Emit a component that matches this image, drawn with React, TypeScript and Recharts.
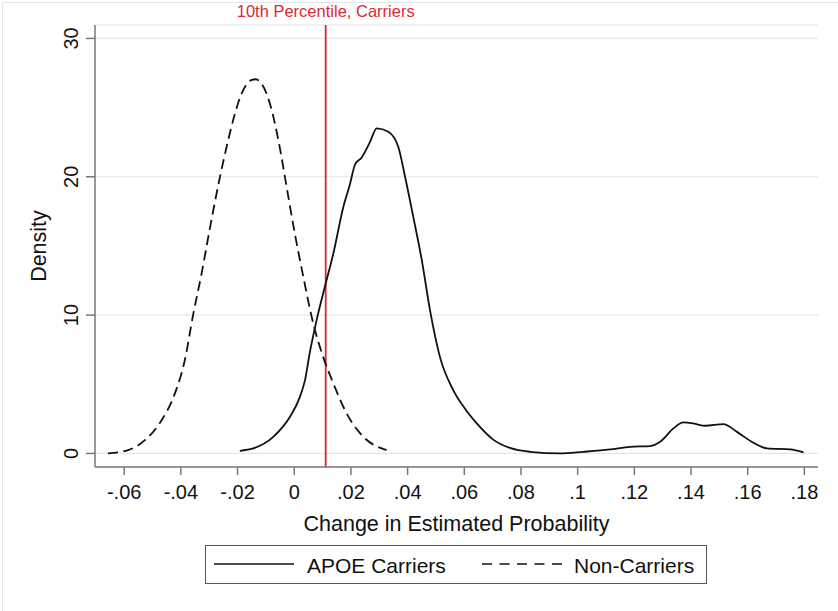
import React from "react";
import {
  LineChart,
  Line,
  XAxis,
  YAxis,
  CartesianGrid,
  ReferenceLine,
  Legend,
} from "recharts";

const FONT = "'Liberation Sans', Arial, Helvetica, sans-serif";

// APOE carriers (solid)
const carrierX = [
  -0.0192, -0.0145, -0.0074, -0.0015, 0.002, 0.0038, 0.0055, 0.0079, 0.0108,
  0.0138, 0.0173, 0.0197, 0.0214, 0.0238, 0.0267, 0.0291, 0.0332, 0.0367,
  0.0391, 0.042, 0.045, 0.0479, 0.0514, 0.0561, 0.06, 0.0644,
  0.0702, 0.0761, 0.0832, 0.0938, 0.102, 0.1114, 0.1185, 0.1256, 0.1291,
  0.1338, 0.1373, 0.1408, 0.145, 0.1514, 0.1562, 0.162, 0.1668, 0.175, 0.1797,
];
const carrierY = [
  0.19, 0.36, 1.2, 2.65, 4.09, 5.3, 7.3, 9.64, 12.05, 14.46, 17.8, 19.5, 20.85,
  21.4, 22.5, 23.5, 23.25, 22.17, 20.0, 17.1, 13.98, 10.36, 6.98, 4.58, 3.3,
  2.17, 1.0, 0.4, 0.12, 0.0, 0.12, 0.29, 0.48, 0.53, 0.84, 1.81,
  2.24, 2.17, 2.0, 2.12, 1.56, 0.77, 0.36, 0.29, 0.07,
];

// Non-carriers (dashed)
const nonCarrierX = [
  -0.0657, -0.0586, -0.0527, -0.0468, -0.0421, -0.0386, -0.0357, -0.0327,
  -0.0301, -0.0262, -0.0233, -0.0209, -0.0186, -0.015, -0.0135, -0.0121,
  -0.0086, -0.0056, -0.0027, 0.0002, 0.0032, 0.0067, 0.0102, 0.0138, 0.0185,
  0.0244, 0.0326,
];
const nonCarrierY = [
  0.0, 0.24, 0.96, 2.4, 4.34, 6.75, 10.0, 13.0, 15.9, 20.0, 22.65, 24.58, 26.0,
  27.0, 27.05, 26.87, 25.3, 22.65, 19.28, 15.9, 12.77, 9.4, 6.98, 5.06, 2.89,
  1.2, 0.24,
];

const xTicks = [-0.06, -0.04, -0.02, 0, 0.02, 0.04, 0.06, 0.08, 0.1, 0.12, 0.14, 0.16, 0.18];
const yTicks = [0, 10, 20, 30];
const percentile10 = 0.0111;

const seriesNames = ["APOE Carriers", "Non-Carriers"];

const carrierData = carrierX.map((x, i) => ({ x, y: carrierY[i] }));
const nonCarrierData = nonCarrierX.map((x, i) => ({ x, y: nonCarrierY[i] }));

const fmtX = (v: number) => {
  if (v === 0) return "0";
  return Number(v.toFixed(2)).toString().replace("0.", ".");
};

const XTick = (props: any) => {
  const { x, y, payload } = props;
  return (
    <text x={x} y={y + 20} textAnchor="middle" fontSize={20} fontFamily={FONT} fill="#111">
      {fmtX(payload.value)}
    </text>
  );
};

const YTick = (props: any) => {
  const { x, y, payload } = props;
  return (
    <text
      x={x}
      y={y}
      transform={`rotate(-90, ${x}, ${y})`}
      textAnchor="middle"
      fontSize={20}
      fontFamily={FONT}
      fill="#111"
    >
      {payload.value}
    </text>
  );
};

const renderLegend = () => (
  <div
    style={{
      width: 502,
      height: 39,
      border: "1.5px solid #555",
      boxSizing: "border-box",
      background: "#fff",
      position: "relative",
    }}
  >
    <svg width={500} height={36} style={{ position: "absolute", left: 0, top: 0 }}>
      <line x1={8} x2={88} y1={18} y2={18} stroke="#111" strokeWidth={1.6} />
      <text x={101} y={26.5} fontSize={21} fontFamily={FONT} fill="#111">
        {seriesNames[0]}
      </text>
      <line x1={276} x2={356} y1={18} y2={18} stroke="#111" strokeWidth={1.6} strokeDasharray="10 7.5" />
      <text x={368} y={26.5} fontSize={21} fontFamily={FONT} fill="#111">
        {seriesNames[1]}
      </text>
    </svg>
  </div>
);

export default function App() {
  return (
    <div style={{ position: "absolute", left: 0, top: 0, width: 838, height: 611, background: "#fff" }}>
      <div
        style={{
          position: "absolute",
          left: 2,
          top: 2,
          width: 836,
          height: 609,
          borderTop: "1px solid #e4e4e4",
          borderLeft: "1px solid #e4e4e4",
          boxSizing: "border-box",
        }}
      />
      <LineChart
        width={838}
        height={611}
        margin={{ top: 25, right: 20, bottom: 114, left: 35 }}
        style={{ position: "absolute", left: 0, top: 0 }}
      >
        <CartesianGrid vertical={false} stroke="#e6e6e6" strokeWidth={1.2} />
        <XAxis
          type="number"
          dataKey="x"
          domain={[-0.0703, 0.1848]}
          allowDataOverflow
          ticks={xTicks}
          interval={0}
          height={30}
          tickSize={8}
          tickMargin={4}
          stroke="#777"
          strokeWidth={1.5}
          tick={<XTick />}
          label={({ viewBox }: any) => (
            <text
              x={viewBox.x + viewBox.width / 2}
              y={viewBox.y + 64}
              textAnchor="middle"
              fontSize={21.5}
              fontFamily={FONT}
              fill="#111"
            >
              Change in Estimated Probability
            </text>
          )}
        />
        <YAxis
          type="number"
          dataKey="y"
          domain={[-0.98, 30.97]}
          allowDataOverflow
          ticks={yTicks}
          interval={0}
          width={60}
          tickSize={9}
          tickMargin={8}
          stroke="#777"
          strokeWidth={1.5}
          tick={<YTick />}
          label={({ viewBox }: any) => {
            const cx = 46;
            const cy = viewBox.y + viewBox.height / 2;
            return (
              <text
                x={cx}
                y={cy}
                transform={`rotate(-90, ${cx}, ${cy})`}
                textAnchor="middle"
                fontSize={21.5}
                fontFamily={FONT}
                fill="#111"
              >
                Density
              </text>
            );
          }}
        />
        <ReferenceLine
          x={percentile10}
          stroke="#d42a2a"
          strokeWidth={1.8}
          label={{
            value: "10th Percentile, Carriers",
            position: "top",
            offset: 8,
            fill: "#e0282e",
            fontSize: 16.5,
            fontFamily: FONT,
          }}
        />
        <Line
          data={carrierData}
          dataKey="y"
          name={seriesNames[0]}
          type="monotone"
          stroke="#111"
          strokeWidth={1.8}
          dot={false}
          isAnimationActive={false}
        />
        <Line
          data={nonCarrierData}
          dataKey="y"
          name={seriesNames[1]}
          type="monotone"
          stroke="#111"
          strokeWidth={1.8}
          strokeDasharray="10 5.5"
          dot={false}
          isAnimationActive={false}
        />
        <Legend
          layout="vertical"
          verticalAlign="middle"
          align="center"
          content={renderLegend}
          wrapperStyle={{ left: 205, top: 545, width: 502, height: 39 }}
        />
      </LineChart>
    </div>
  );
}
